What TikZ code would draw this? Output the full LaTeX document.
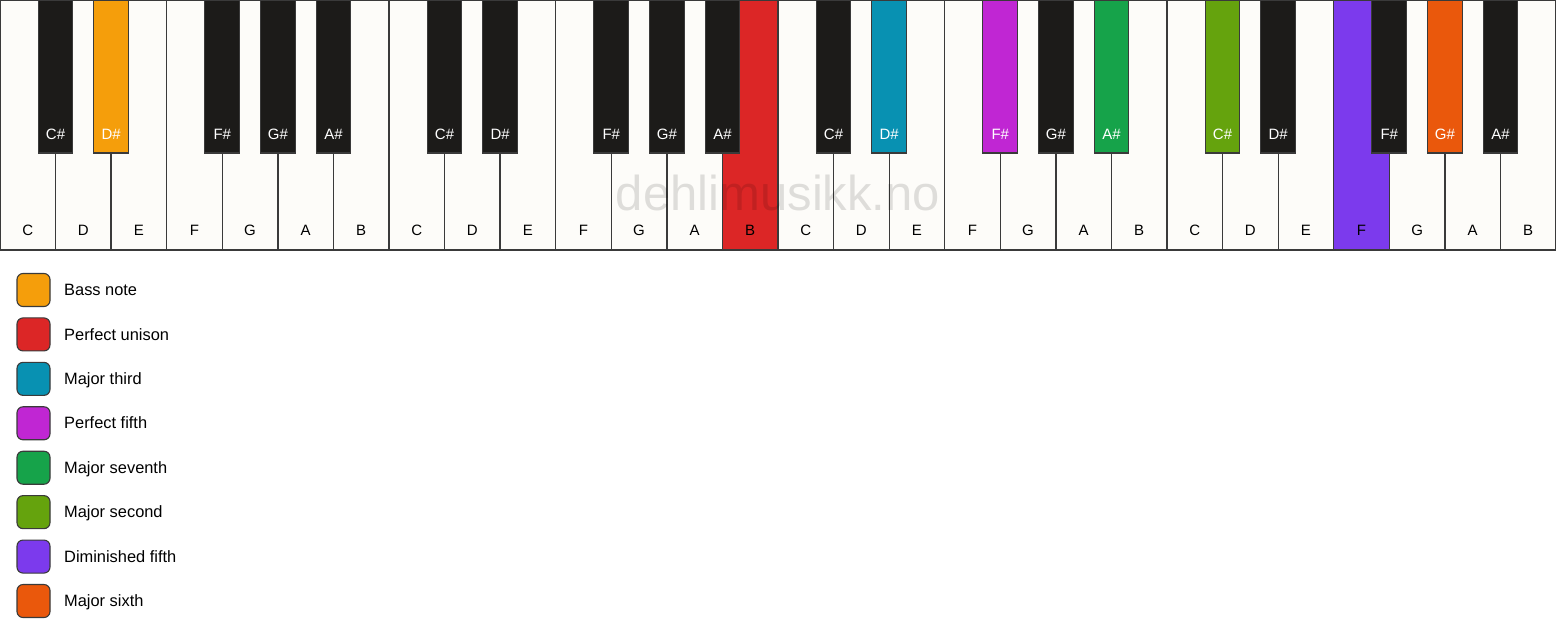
\documentclass[tikz,border=0pt]{standalone}
\usepackage{fontspec}
\setmainfont{Liberation Sans}
\definecolor{whitekey}{HTML}{FDFCF9}
\definecolor{blackkey}{HTML}{1C1B19}
\definecolor{keyline}{HTML}{3A3A3A}
\definecolor{bass}{HTML}{F59E0B}
\definecolor{unison}{HTML}{DC2626}
\definecolor{third}{HTML}{0891B2}
\definecolor{fifth}{HTML}{C026D3}
\definecolor{seventh}{HTML}{16A34A}
\definecolor{second}{HTML}{65A30D}
\definecolor{dimfifth}{HTML}{7C3AED}
\definecolor{sixth}{HTML}{EA580C}
\tikzset{
  wkey/.style={draw=keyline, line width=1.3pt, minimum width=55.5714pt, minimum height=250pt, anchor=north west, inner sep=0pt, outer sep=0pt},
  bkey/.style={draw=keyline, line width=1.1pt, minimum width=34.7pt, minimum height=153pt, anchor=north, inner sep=0pt, outer sep=0pt},
  wlabel/.style={font=\fontsize{15}{18}\selectfont, text=black, anchor=base, inner sep=0pt},
  blabel/.style={font=\fontsize{15}{18}\selectfont, text=white, anchor=base, inner sep=0pt},
  legbox/.style={draw=keyline, line width=1.1pt, rounded corners=6pt, minimum size=33pt, inner sep=0pt},
  legtext/.style={font=\fontsize{16.4}{19}\selectfont, anchor=base west, inner sep=0pt},
  watermark/.style={font=\fontsize{49}{52}\selectfont, text=black, text opacity=0.12}
}
\begin{document}
\begin{tikzpicture}[x=1pt, y=-1pt]
\useasboundingbox[fill=white] (0,0) rectangle (1556,639);
% white keys
\foreach \o in {0,...,3}{
  \foreach \k/\n in {0/C,1/D,2/E,3/F,4/G,5/A,6/B}{
    \pgfmathtruncatemacro\i{7*\o+\k}
    \def\fc{whitekey}
    \ifnum\i=13 \def\fc{unison}\fi
    \ifnum\i=24 \def\fc{dimfifth}\fi
    \node[wkey, fill=\fc] (w\i) at (\i*55.5714, 0) {};
    \node[wlabel] (wl\i) at ([yshift=14pt]w\i.south) {\n};
  }
}
% black keys
\foreach \b/\n/\c in {1/C\#/blackkey, 2/D\#/bass, 4/F\#/blackkey, 5/G\#/blackkey, 6/A\#/blackkey,
  8/C\#/blackkey, 9/D\#/blackkey, 11/F\#/blackkey, 12/G\#/blackkey, 13/A\#/blackkey,
  15/C\#/blackkey, 16/D\#/third, 18/F\#/fifth, 19/G\#/blackkey, 20/A\#/seventh,
  22/C\#/second, 23/D\#/blackkey, 25/F\#/blackkey, 26/G\#/sixth, 27/A\#/blackkey}{
  \node[bkey, fill=\c] (b\b) at (\b*55.5714, 0) {};
  \node[blabel] (bl\b) at ([yshift=13.7pt]b\b.south) {\n};
}
% watermark
\node[watermark] (wm) at (778, 193) {dehlimusikk.no};
% legend
\foreach \j/\c/\t in {0/bass/Bass note, 1/unison/Perfect unison, 2/third/Major third, 3/fifth/Perfect fifth,
  4/seventh/Major seventh, 5/second/Major second, 6/dimfifth/Diminished fifth, 7/sixth/Major sixth}{
  \node[legbox, fill=\c] (lb\j) at (33.5, 290+44.43*\j) {};
  \node[legtext] (lt\j) at (64, 295.7+44.43*\j) {\t};
}
\end{tikzpicture}
\end{document}
